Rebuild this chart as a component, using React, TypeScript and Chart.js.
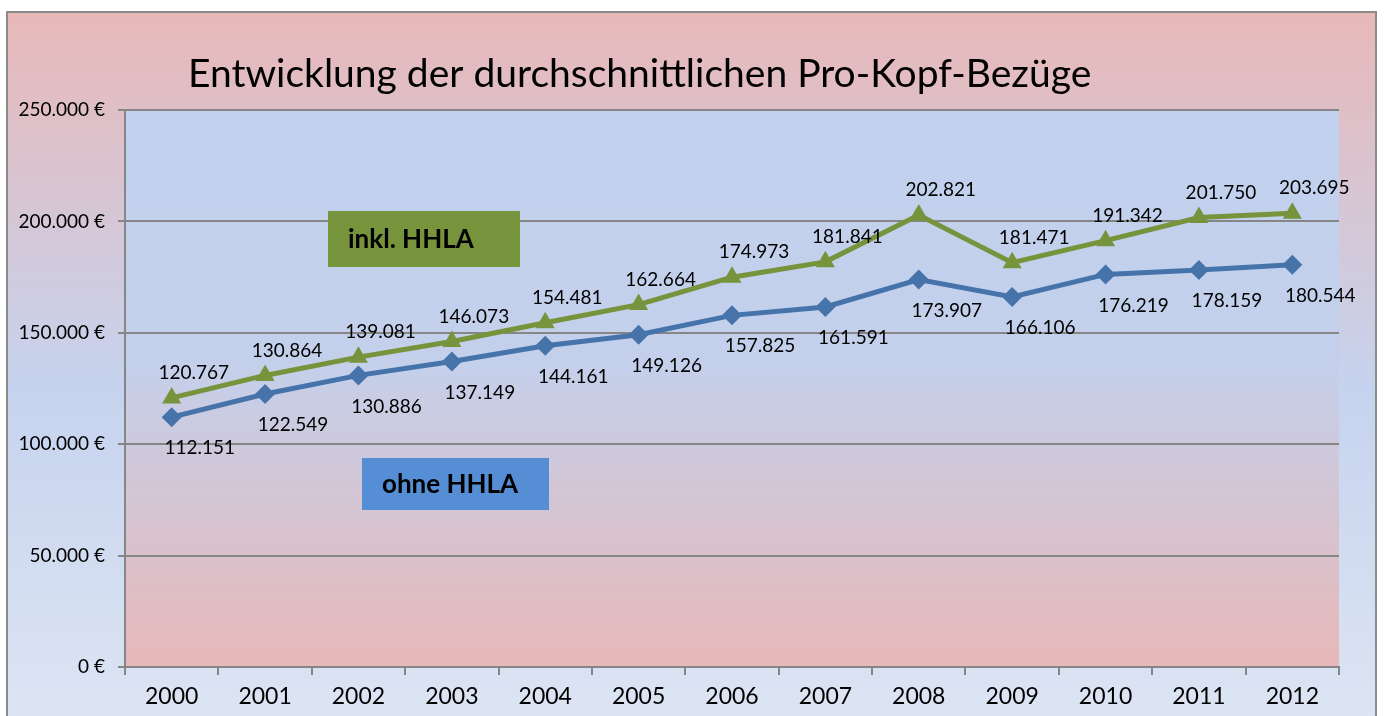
import React, { useEffect, useRef } from "react";
import { Chart, registerables } from "chart.js";

Chart.register(...registerables);

const years = ["2000", "2001", "2002", "2003", "2004", "2005", "2006", "2007", "2008", "2009", "2010", "2011", "2012"];
const inklHHLA = [120767, 130864, 139081, 146073, 154481, 162664, 174973, 181841, 202821, 181471, 191342, 201750, 203695];
const ohneHHLA = [112151, 122549, 130886, 137149, 144161, 149126, 157825, 161591, 173907, 166106, 176219, 178159, 180544];
const titleText = "Entwicklung der durchschnittlichen Pro-Kopf-Bezüge";
const seriesNames = ["inkl. HHLA", "ohne HHLA"];

const FONT = "Lato";
const fmt = (v: number) => v.toLocaleString("de-DE");

const backgroundPlugin = {
  id: "bgPlugin",
  beforeDraw(chart: any) {
    const { ctx, chartArea, height } = chart;
    ctx.save();
    const g = ctx.createLinearGradient(0, 12, 0, 760);
    g.addColorStop(0, "#e8b8b8");
    g.addColorStop(0.5, "#c6d3ee");
    g.addColorStop(1, "#dfe7f4");
    ctx.fillStyle = g;
    ctx.fillRect(7, 12, 1369, height);
    ctx.strokeStyle = "#8c8c8c";
    ctx.lineWidth = 2;
    ctx.strokeRect(7, 12, 1369, height + 10);
    const g2 = ctx.createLinearGradient(0, chartArea.top, 0, chartArea.bottom);
    g2.addColorStop(0, "#c1d1ee");
    g2.addColorStop(0.45, "#c4d0eb");
    g2.addColorStop(1, "#e7b8b8");
    ctx.fillStyle = g2;
    ctx.fillRect(chartArea.left, chartArea.top, chartArea.right - chartArea.left, chartArea.bottom - chartArea.top);
    ctx.restore();
  },
};

const overlayPlugin = {
  id: "overlayPlugin",
  afterDraw(chart: any) {
    const { ctx, chartArea } = chart;
    ctx.save();
    ctx.fillStyle = "#000";
    ctx.font = `39px ${FONT}`;
    ctx.textBaseline = "alphabetic";
    ctx.textAlign = "left";
    ctx.fillText(titleText, chartArea.left + 63, 87);
    const boxes = [
      { x: 328, y: 211, w: 192, h: 56, color: "#77933c", text: seriesNames[0] },
      { x: 362, y: 458, w: 187, h: 52, color: "#558ed5", text: seriesNames[1] },
    ];
    for (const b of boxes) {
      ctx.fillStyle = b.color;
      ctx.fillRect(b.x, b.y, b.w, b.h);
      ctx.fillStyle = "#000";
      ctx.font = `bold 26px ${FONT}`;
      ctx.textBaseline = "middle";
      ctx.fillText(b.text, b.x + 20, b.y + b.h / 2 + 1);
    }
    ctx.font = `19px ${FONT}`;
    ctx.textAlign = "center";
    ctx.textBaseline = "middle";
    ctx.fillStyle = "#000";
    chart.data.datasets.forEach((ds: any, di: number) => {
      const meta = chart.getDatasetMeta(di);
      const dx = di === 0 ? 22 : 28;
      const dy = di === 0 ? -25 : 31;
      meta.data.forEach((pt: any, i: number) => {
        ctx.fillText(fmt(ds.data[i]), pt.x + dx, pt.y + dy);
      });
    });
    ctx.restore();
  },
};

export default function App() {
  const ref = useRef<HTMLCanvasElement | null>(null);
  useEffect(() => {
    if (!ref.current) return;
    const chart = new Chart(ref.current, {
      type: "line",
      data: {
        labels: years,
        datasets: [
          {
            label: seriesNames[0],
            data: inklHHLA,
            borderColor: "#77933c",
            backgroundColor: "#77933c",
            borderWidth: 5,
            pointStyle: "triangle",
            pointRadius: 11,
            pointBorderWidth: 0,
            tension: 0,
          },
          {
            label: seriesNames[1],
            data: ohneHHLA,
            borderColor: "#4674aa",
            backgroundColor: "#4674aa",
            borderWidth: 5,
            pointStyle: "rectRot",
            pointRadius: 10,
            pointBorderWidth: 0,
            tension: 0,
          },
        ],
      },
      options: {
        responsive: false,
        animation: false,
        events: [],
        layout: { padding: { left: 0, top: 110, right: 45, bottom: 0 } },
        plugins: { legend: { display: false }, title: { display: false }, tooltip: { enabled: false } },
        scales: {
          x: {
            type: "category",
            offset: true,
            afterFit: (s: any) => { s.height = 716 - 667; },
            grid: { offset: true, drawOnChartArea: false, drawTicks: true, tickLength: 8, color: "#868686", lineWidth: 2 },
            border: { color: "#868686", width: 2 },
            ticks: { color: "#000", font: { family: FONT, size: 23 }, padding: 8, maxRotation: 0 },
          },
          y: {
            min: 0,
            max: 250000,
            afterFit: (s: any) => { s.width = 125; },
            grid: { color: "#868686", lineWidth: 2, tickLength: 7 },
            border: { color: "#868686", width: 2 },
            ticks: {
              stepSize: 50000,
              color: "#000",
              padding: 13,
              font: { family: FONT, size: 19 },
              callback: (v: any) => fmt(Number(v)) + " €",
            },
          },
        },
      },
      plugins: [backgroundPlugin, overlayPlugin],
    } as any);
    return () => chart.destroy();
  }, []);
  return (
    <div style={{ position: "fixed", left: 0, top: 0, width: 1384, height: 716, overflow: "hidden", background: "#fff" }}>
      <canvas ref={ref} width={1384} height={716} style={{ display: "block" }} />
    </div>
  );
}
